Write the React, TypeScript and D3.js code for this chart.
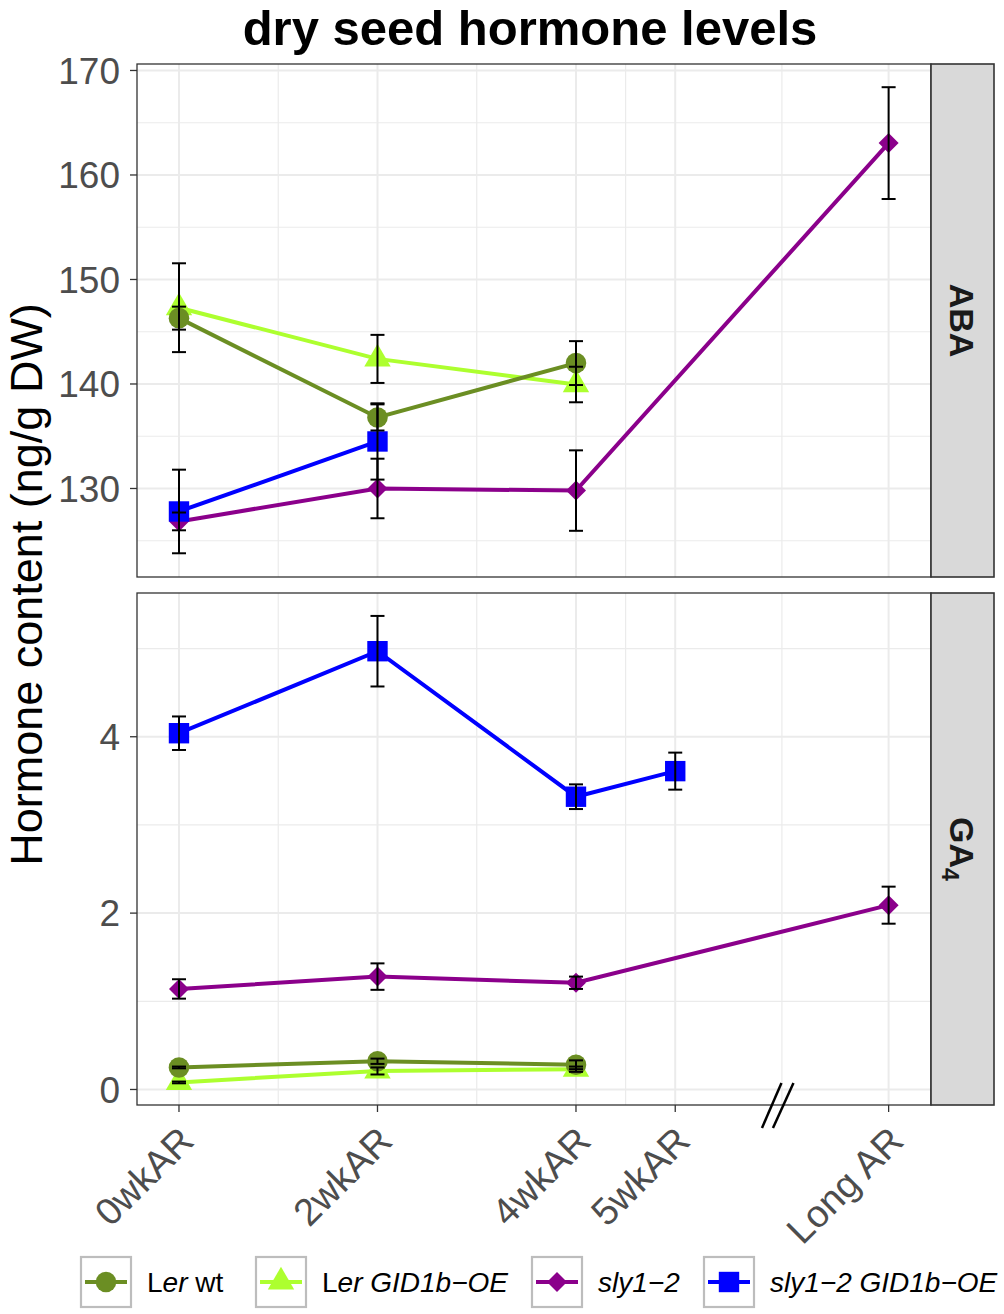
import React from 'react';
import * as d3 from 'd3';

const W = 1004;
const H = 1314;

// categories (x positions in weeks after ripening; Long AR placed after axis break)
const timeLabels = ['0wkAR', '2wkAR', '4wkAR', '5wkAR', 'Long AR'];
const timePos = [0, 2, 4, 5, 7.15];
const minorX = [1, 3, 4.5, 6.075];
const breakPos = 6.03;

const seriesNames = ['Ler wt', 'Ler GID1b-OE', 'sly1-2', 'sly1-2 GID1b-OE'];
const seriesColors = ['#6B8E23', '#ADFF2F', '#8B008B', '#0000FF'];
const seriesShapes = ['circle', 'triangle', 'diamond', 'square'];

// ABA (ng/g DW)
const abaLerWt = [146.3, 136.8, 142.0, null, null];
const abaLerWtErr = [1.1, 1.25, 2.1, null, null];
const abaLerGid = [147.3, 142.4, 139.95, null, null];
const abaLerGidErr = [4.25, 2.3, 1.7, null, null];
const abaSly = [126.85, 130.0, 129.8, null, 163.05];
const abaSlyErr = [0.85, 2.85, 3.85, null, 5.35];
const abaSlyGid = [127.8, 134.5, null, null, null];
const abaSlyGidErr = [4.0, 3.65, null, null, null];

// GA4 (ng/g DW)
const gaLerWt = [0.25, 0.32, 0.28, null, null];
const gaLerWtErr = [0.01, 0.03, 0.05, null, null];
const gaLerGid = [0.08, 0.21, 0.23, null, null];
const gaLerGidErr = [0.01, 0.04, 0.03, null, null];
const gaSly = [1.14, 1.28, 1.21, null, 2.09];
const gaSlyErr = [0.11, 0.15, 0.07, null, 0.21];
const gaSlyGid = [4.04, 4.97, 3.32, 3.61, null];
const gaSlyGidErr = [0.19, 0.4, 0.14, 0.21, null];

const abaTicks = [130, 140, 150, 160, 170];
const abaMinor = [125, 135, 145, 155, 165];
const gaTicks = [0, 2, 4];
const gaMinor = [1, 3, 5];

const FONT = '"Liberation Sans", Arial, Helvetica, sans-serif';

const PANEL_L = 137;
const PANEL_R = 931;
const STRIP_R = 994;
const ABA_T = 64;
const ABA_B = 577;
const GA_T = 593;
const GA_B = 1105;

const x = d3.scaleLinear().domain([-0.423, 7.577]).range([PANEL_L, PANEL_R]);
const yAba = d3.scaleLinear().domain([121.53, 170.62]).range([ABA_B, ABA_T]);
const yGa = d3.scaleLinear().domain([-0.176, 5.63]).range([GA_B, GA_T]);

type Pt = { x: number; v: number; e: number };

function toPts(vals: (number | null)[], errs: (number | null)[]): Pt[] {
  const out: Pt[] = [];
  vals.forEach((v, i) => {
    if (v !== null) out.push({ x: timePos[i], v, e: errs[i] ?? 0 });
  });
  return out;
}

const abaData = [
  toPts(abaLerWt, abaLerWtErr),
  toPts(abaLerGid, abaLerGidErr),
  toPts(abaSly, abaSlyErr),
  toPts(abaSlyGid, abaSlyGidErr),
];
const gaData = [
  toPts(gaLerWt, gaLerWtErr),
  toPts(gaLerGid, gaLerGidErr),
  toPts(gaSly, gaSlyErr),
  toPts(gaSlyGid, gaSlyGidErr),
];

function Shape({ kind, cx, cy, color }: { kind: string; cx: number; cy: number; color: string }) {
  if (kind === 'circle') return <circle cx={cx} cy={cy} r={10.3} fill={color} />;
  if (kind === 'square')
    return <rect x={cx - 10.2} y={cy - 10.2} width={20.4} height={20.4} fill={color} />;
  if (kind === 'diamond') {
    const r = 10;
    return (
      <polygon
        points={`${cx},${cy - r} ${cx + r},${cy} ${cx},${cy + r} ${cx - r},${cy}`}
        fill={color}
      />
    );
  }
  const s = 9.8;
  return (
    <polygon
      points={`${cx},${cy - 1.555 * s} ${cx + 1.347 * s},${cy + 0.778 * s} ${cx - 1.347 * s},${cy + 0.778 * s}`}
      fill={color}
    />
  );
}

function Panel({
  data,
  y,
  top,
  bottom,
  ticks,
  minor,
  label,
}: {
  data: Pt[][];
  y: d3.ScaleLinear<number, number>;
  top: number;
  bottom: number;
  ticks: number[];
  minor: number[];
  label: React.ReactNode;
}) {
  const line = d3
    .line<Pt>()
    .x((d) => x(d.x))
    .y((d) => y(d.v));
  const drawOrder = [2, 3, 1, 0];
  return (
    <g>
      <rect x={PANEL_L} y={top} width={PANEL_R - PANEL_L} height={bottom - top} fill="#fff" />
      {minor.map((t) => (
        <line key={'hm' + t} x1={PANEL_L} x2={PANEL_R} y1={y(t)} y2={y(t)} stroke="#EBEBEB" strokeWidth={1.2} />
      ))}
      {minorX.map((t) => (
        <line key={'vm' + t} x1={x(t)} x2={x(t)} y1={top} y2={bottom} stroke="#EBEBEB" strokeWidth={1.2} />
      ))}
      {ticks.map((t) => (
        <line key={'h' + t} x1={PANEL_L} x2={PANEL_R} y1={y(t)} y2={y(t)} stroke="#EBEBEB" strokeWidth={2} />
      ))}
      {timePos.map((t) => (
        <line key={'v' + t} x1={x(t)} x2={x(t)} y1={top} y2={bottom} stroke="#EBEBEB" strokeWidth={2} />
      ))}
      {drawOrder.map((si) => (
        <path key={'l' + si} d={line(data[si]) || ''} fill="none" stroke={seriesColors[si]} strokeWidth={4} />
      ))}
      {drawOrder.map((si) =>
        data[si].map((d, i) => (
          <Shape key={'p' + si + '_' + i} kind={seriesShapes[si]} cx={x(d.x)} cy={y(d.v)} color={seriesColors[si]} />
        ))
      )}
      {drawOrder.map((si) =>
        data[si].map((d, i) => {
          const cx = x(d.x);
          const y1 = y(d.v + d.e);
          const y2 = y(d.v - d.e);
          return (
            <g key={'e' + si + '_' + i} stroke="#000" strokeWidth={2}>
              <line x1={cx} x2={cx} y1={y1} y2={y2} />
              <line x1={cx - 7} x2={cx + 7} y1={y1} y2={y1} />
              <line x1={cx - 7} x2={cx + 7} y1={y2} y2={y2} />
            </g>
          );
        })
      )}
      <rect
        x={PANEL_L}
        y={top}
        width={PANEL_R - PANEL_L}
        height={bottom - top}
        fill="none"
        stroke="#333"
        strokeWidth={1.3}
      />
      {ticks.map((t) => (
        <g key={'t' + t}>
          <line x1={PANEL_L - 7} x2={PANEL_L} y1={y(t)} y2={y(t)} stroke="#333" strokeWidth={1.3} />
          <text
            x={PANEL_L - 17}
            y={y(t)}
            dy="0.36em"
            textAnchor="end"
            fontSize={37}
            fill="#4D4D4D"
            fontFamily={FONT}
          >
            {t}
          </text>
        </g>
      ))}
      <rect
        x={PANEL_R}
        y={top}
        width={STRIP_R - PANEL_R}
        height={bottom - top}
        fill="#D9D9D9"
        stroke="#333"
        strokeWidth={1.6}
      />
      <text
        transform={`translate(${(PANEL_R + STRIP_R) / 2},${(top + bottom) / 2}) rotate(90)`}
        textAnchor="middle"
        dy="0.36em"
        fontSize={34}
        fontWeight="bold"
        fill="#1A1A1A"
        fontFamily={FONT}
      >
        {label}
      </text>
    </g>
  );
}

function LegendLabel({ i }: { i: number }) {
  if (i === 0)
    return (
      <>
        <tspan>L</tspan>
        <tspan fontStyle="italic">er</tspan>
        <tspan> wt</tspan>
      </>
    );
  if (i === 1)
    return (
      <>
        <tspan>L</tspan>
        <tspan fontStyle="italic">er GID1b−OE</tspan>
      </>
    );
  if (i === 2) return <tspan fontStyle="italic">sly1−2</tspan>;
  return <tspan fontStyle="italic">sly1−2 GID1b−OE</tspan>;
}

const legendKeyX = [81, 256, 532, 704];

export default function App() {
  const bx = x(breakPos);
  return (
    <svg
      width={W}
      height={H}
      viewBox={`0 0 ${W} ${H}`}
      style={{ position: 'absolute', left: 0, top: 0, display: 'block', background: '#fff' }}
      fontFamily={FONT}
    >
      <rect x={0} y={0} width={W} height={H} fill="#fff" />
      <text x={530} y={45} textAnchor="middle" fontSize={49} fontWeight="bold" fill="#000">
        dry seed hormone levels
      </text>
      <text
        transform={`translate(42,${(ABA_T + GA_B) / 2}) rotate(-90)`}
        textAnchor="middle"
        fontSize={45}
        fill="#000"
      >
        Hormone content (ng/g DW)
      </text>
      <Panel data={abaData} y={yAba} top={ABA_T} bottom={ABA_B} ticks={abaTicks} minor={abaMinor} label="ABA" />
      <Panel
        data={gaData}
        y={yGa}
        top={GA_T}
        bottom={GA_B}
        ticks={gaTicks}
        minor={gaMinor}
        label={
          <>
            <tspan>GA</tspan>
            <tspan fontSize={23} dy={8}>
              4
            </tspan>
          </>
        }
      />
      {timePos.map((t, i) => (
        <g key={'xt' + i}>
          <line x1={x(t)} x2={x(t)} y1={GA_B} y2={GA_B + 7} stroke="#333" strokeWidth={1.3} />
          <text
            transform={`translate(${x(t) + 17},${GA_B + 38}) rotate(-45)`}
            textAnchor="end"
            fontSize={38}
            fill="#4D4D4D"
          >
            {timeLabels[i]}
          </text>
        </g>
      ))}
      <g stroke="#000" strokeWidth={2.5}>
        <line x1={bx - 15.5} y1={1128} x2={bx + 4} y2={1083} />
        <line x1={bx - 4.5} y1={1128} x2={bx + 16} y2={1083} />
      </g>
      {seriesNames.map((n, i) => {
        const kx = legendKeyX[i];
        const ky = 1257;
        return (
          <g key={'lg' + i}>
            <rect x={kx} y={ky} width={50} height={50} fill="#fff" stroke="#BDBDBD" strokeWidth={2.2} />
            <line x1={kx + 4} x2={kx + 46} y1={ky + 25} y2={ky + 25} stroke={seriesColors[i]} strokeWidth={4} />
            <Shape kind={seriesShapes[i]} cx={kx + 25} cy={ky + 25} color={seriesColors[i]} />
            <text x={kx + 66} y={ky + 25} dy="0.36em" fontSize={28} fill="#000">
              <LegendLabel i={i} />
            </text>
          </g>
        );
      })}
    </svg>
  );
}
